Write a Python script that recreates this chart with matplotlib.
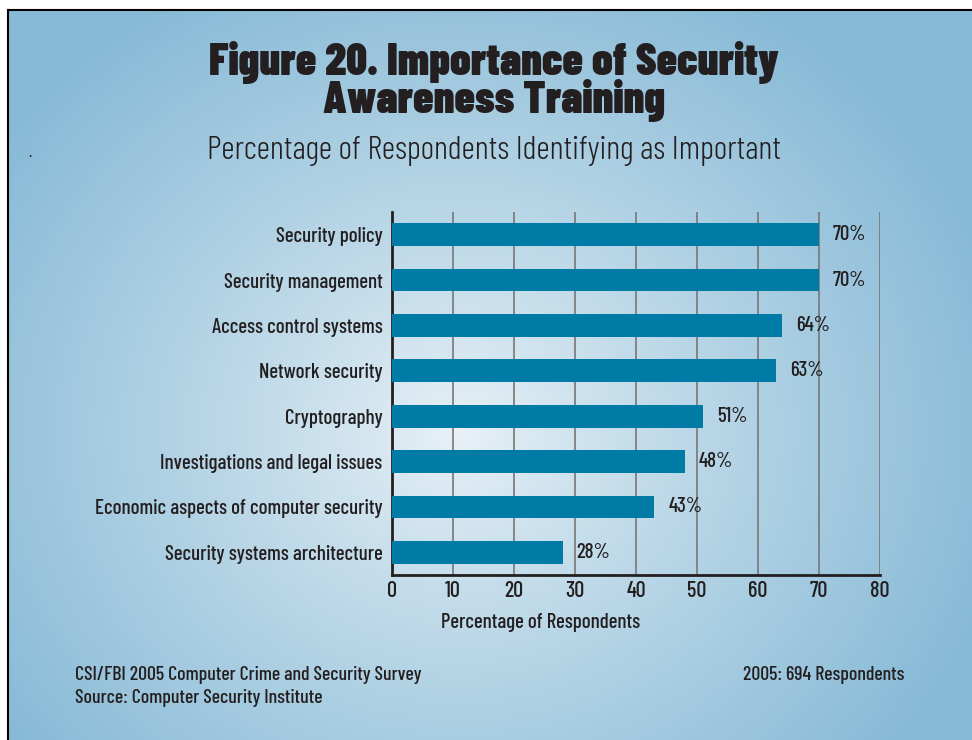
import numpy as np
import matplotlib
matplotlib.use("Agg")
from matplotlib import pyplot as plt

# ------------------------------------------------------------
# data
categories = ["Security policy", "Security management", "Access control systems",
              "Network security", "Cryptography", "Investigations and legal issues",
              "Economic aspects of computer security", "Security systems architecture"]
values = [70, 70, 64, 63, 51, 48, 43, 28]
xticks = [0, 10, 20, 30, 40, 50, 60, 70, 80]

plt.rcParams['font.family'] = ['Barlow Condensed', 'Roboto Condensed', 'DejaVu Sans']
ink = '#231f20'
bar_color = '#007ba5'

W, H = 972, 740
fig = plt.figure(figsize=(W / 100, H / 100), dpi=100)
fig.patch.set_facecolor('white')

# ------------------------------------------------------------
# radial gradient background with black top/left border
bg = fig.add_axes([8 / W, 0, 1 - 8 / W, 1 - 10 / H])
bw, bh = W - 8, H - 10
yy, xx = np.mgrid[0:bh, 0:bw]
cx, cy = 450, 420
r = np.sqrt(((xx - cx) / 1.0) ** 2 + ((yy - cy) / 0.9) ** 2) / 560
r = np.clip(r, 0, 1) ** 0.85
c0 = np.array([0.92, 0.95, 0.97])
c1 = np.array([0.53, 0.73, 0.84])
img = c0[None, None, :] * (1 - r[..., None]) + c1[None, None, :] * r[..., None]
bg.imshow(img, aspect='auto', interpolation='bilinear')
bg.set_xticks([])
bg.set_yticks([])
for side in ['right', 'bottom']:
    bg.spines[side].set_visible(False)
for side in ['left', 'top']:
    bg.spines[side].set_linewidth(1.5)
bg.set_zorder(0)

# ------------------------------------------------------------
# bar chart
ax = fig.add_axes([392 / W, 1 - 575 / H, (880 - 392) / W, (575 - 212) / H])
ax.set_facecolor('none')
ax.set_zorder(1)

y = np.arange(len(categories))
ax.barh(y, values, height=0.5, color=bar_color, zorder=3)

for yi, v in zip(y, values):
    ax.annotate('%d%%' % v, xy=(v, yi), xytext=(10, 0), textcoords='offset points',
                va='center', ha='left', fontsize=15, fontweight=500, color=ink)

ax.set_xlim(0, 80)
ax.set_ylim(len(categories) - 0.5, -0.5)
ax.set_xticks(xticks)
ax.set_xticklabels([str(t) for t in xticks], fontsize=16, fontweight=500, color=ink)
ax.set_yticks(y)
ax.set_yticklabels(categories, fontsize=15, fontweight=500, color=ink)
ax.tick_params(axis='both', length=0)
ax.tick_params(axis='y', pad=7)
ax.tick_params(axis='x', pad=4)
ax.grid(axis='x', color='#777777', linewidth=1.2, zorder=1)
ax.set_axisbelow(True)
for side in ['top', 'right']:
    ax.spines[side].set_visible(False)
for side in ['left', 'bottom']:
    ax.spines[side].set_linewidth(2)
    ax.spines[side].set_color(ink)
ax.set_xlabel('Percentage of Respondents', fontsize=15, fontweight=500, color=ink)
ax.xaxis.set_label_coords(0.305, -0.105)

# ------------------------------------------------------------
# titles and footer
fig.text(494 / W, 1 - 62 / H, 'Figure 20. Importance of Security', ha='center', va='center',
         fontsize=32.5, fontweight=900, color=ink)
fig.text(494 / W, 1 - 101 / H, 'Awareness Training', ha='center', va='center',
         fontsize=32.5, fontweight=900, color=ink)
fig.text(494 / W, 1 - 151 / H, 'Percentage of Respondents Identifying as Important',
         ha='center', va='center', fontsize=23.7, fontweight=300, color=ink)
fig.text(30 / W, 1 - 160 / H, '.', ha='center', va='bottom', fontsize=12, color=ink)

fig.text(75 / W, 1 - 675 / H, 'CSI/FBI 2005 Computer Crime and Security Survey',
         ha='left', va='center', fontsize=14.3, fontweight=500, color=ink)
fig.text(75 / W, 1 - 698 / H, 'Source: Computer Security Institute',
         ha='left', va='center', fontsize=14.3, fontweight=500, color=ink)
fig.text(904 / W, 1 - 675 / H, '2005: 694 Respondents',
         ha='right', va='center', fontsize=14.3, fontweight=500, color=ink)

fig.savefig('out.png', dpi=100)
